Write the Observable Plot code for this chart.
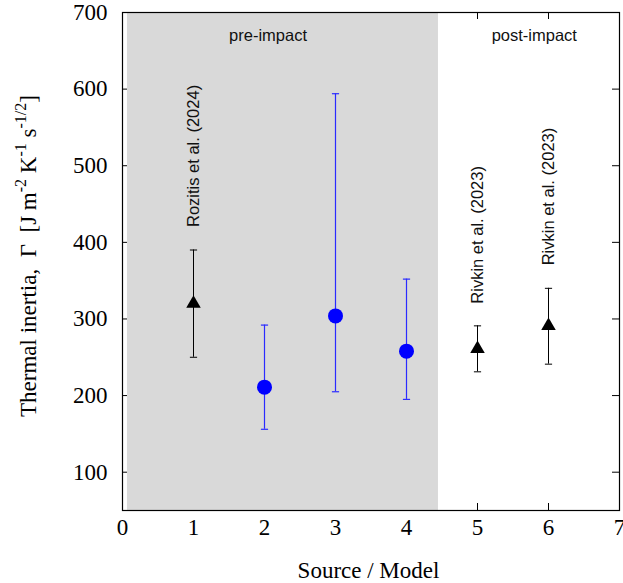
<!DOCTYPE html>
<html><head><meta charset="utf-8">
<script src="https://cdn.jsdelivr.net/npm/d3@7"></script>
<script src="https://cdn.jsdelivr.net/npm/@observablehq/plot@0.6"></script>
<style>
body{margin:0;overflow:hidden;background:#fff}
#chart svg{overflow:hidden;display:block}
</style>
</head><body><div id="chart"></div>
<script>
// ---- data ----
const sources = [1, 2, 3, 4, 5, 6];
const values = [320, 211, 304, 258, 261, 291];
const lower = [250, 156, 205, 195, 231, 241];
const upper = [390, 292, 594, 352, 291, 340];
const kinds = ["measured", "model", "model", "model", "measured", "measured"];

const refSources = [1, 5, 6];
const refTexts = ["Rozitis et al. (2024)", "Rivkin et al. (2023)", "Rivkin et al. (2023)"];
const refBase = [420, 320, 370];

const periodNames = ["pre-impact", "post-impact"];
const periodX = [2.05, 5.8];
const periodY = [670, 670];
const preImpactRange = [0.07, 4.45];

const xTicks = [0, 1, 2, 3, 4, 5, 6, 7];
const yTicks = [100, 200, 300, 400, 500, 600, 700];
const xDomain = [0, 7];
const yDomain = [50, 700];

// ---- tables ----
const rows = sources.map((s, i) => ({x: s, y: values[i], lo: lower[i], hi: upper[i], kind: kinds[i]}));
const measured = rows.filter(d => d.kind === "measured");
const models = rows.filter(d => d.kind === "model");
const refs = refSources.map((s, i) => ({x: s, y: refBase[i], text: refTexts[i]}));
const periods = periodNames.map((n, i) => ({x: periodX[i], y: periodY[i], text: n}));

const W = 623, H = 583, mL = 122, mR = 4, mT = 12, mB = 73;
const innerW = W - mL - mR, innerH = H - mT - mB, tk = 7;
const serif = "Liberation Serif";
const sans = "Liberation Sans";
const blueBar = "#2b2bff";
const capSymbol = {draw(ctx) { ctx.moveTo(-3.6, 0); ctx.lineTo(3.6, 0); }};

const svg = Plot.plot({
  width: W, height: H,
  marginLeft: mL, marginRight: mR, marginTop: mT, marginBottom: mB,
  x: {domain: xDomain, axis: null},
  y: {domain: yDomain, axis: null},
  style: {fontFamily: serif, fontSize: "23px", background: "white", color: "black"},
  marks: [
    Plot.tickX(xTicks, {x: d => d, insetTop: innerH - tk, stroke: "black"}),
    Plot.tickX(xTicks, {x: d => d, insetBottom: innerH - tk, stroke: "black"}),
    Plot.tickY(yTicks, {y: d => d, insetRight: innerW - tk, stroke: "black"}),
    Plot.tickY(yTicks, {y: d => d, insetLeft: innerW - tk, stroke: "black"}),
    Plot.rect([preImpactRange], {x1: d => d[0], x2: d => d[1], fill: "#d9d9d9"}),
    Plot.frame({stroke: "black", strokeWidth: 1.2}),
    // tick labels
    Plot.text(xTicks, {x: d => d, y: yDomain[0], text: d => String(d), lineAnchor: "bottom", dy: 24,
      fontFamily: serif, fontSize: 23, fill: "black"}),
    Plot.text(yTicks, {x: xDomain[0], y: d => d, text: d => String(d), textAnchor: "end", lineAnchor: "middle", dx: -15,
      fontFamily: serif, fontSize: 23, fill: "black"}),
    // error bars
    Plot.ruleX(measured, {x: "x", y1: "lo", y2: "hi", stroke: "black", strokeWidth: 1}),
    Plot.dot(measured, {x: "x", y: "lo", symbol: capSymbol, stroke: "black", fill: "none", strokeWidth: 1}),
    Plot.dot(measured, {x: "x", y: "hi", symbol: capSymbol, stroke: "black", fill: "none", strokeWidth: 1}),
    Plot.ruleX(models, {x: "x", y1: "lo", y2: "hi", stroke: blueBar, strokeWidth: 1.2}),
    Plot.dot(models, {x: "x", y: "lo", symbol: capSymbol, stroke: blueBar, fill: "none", strokeWidth: 1.2}),
    Plot.dot(models, {x: "x", y: "hi", symbol: capSymbol, stroke: blueBar, fill: "none", strokeWidth: 1.2}),
    // markers
    Plot.dot(measured, {x: "x", y: "y", symbol: "triangle", r: 5.4, fill: "black", stroke: "none"}),
    Plot.dot(models, {x: "x", y: "y", r: 7.5, fill: "#0000ff", stroke: "none"}),
    // annotations
    Plot.text(refs, {x: "x", y: "y", text: "text", rotate: -90, textAnchor: "start",
      fontFamily: sans, fontSize: 16.5, fill: "#111"}),
    Plot.text(periods, {x: "x", y: "y", text: "text",
      fontFamily: sans, fontSize: 16.5, fill: "#111"})
  ]
});

const g = d3.select(svg);
// x axis label
g.append("text")
  .attr("x", mL + innerW / 2 - 2).attr("y", 578)
  .attr("text-anchor", "middle")
  .attr("font-family", serif).attr("font-size", 23)
  .attr("fill", "black")
  .text("Source / Model");
// y axis label with superscripts
const yl = g.append("text")
  .attr("transform", "translate(36,256) rotate(-90)")
  .attr("text-anchor", "middle")
  .attr("font-family", serif).attr("font-size", 23)
  .attr("fill", "black")
  .style("white-space", "pre");
const parts = [
  ["Thermal inertia,  \u0393  [J m", false],
  ["-2", true],
  [" K", false],
  ["-1", true],
  [" s", false],
  ["-1/2", true],
  ["]", false]
];
let raised = false;
for (const [t, sup] of parts) {
  const ts = yl.append("tspan").text(t);
  if (sup && !raised) { ts.attr("dy", -10).attr("font-size", 16); raised = true; }
  else if (sup) { ts.attr("font-size", 16); }
  else if (!sup && raised) { ts.attr("dy", 10); raised = false; }
}

document.getElementById("chart").appendChild(svg);
</script>
</body></html>
